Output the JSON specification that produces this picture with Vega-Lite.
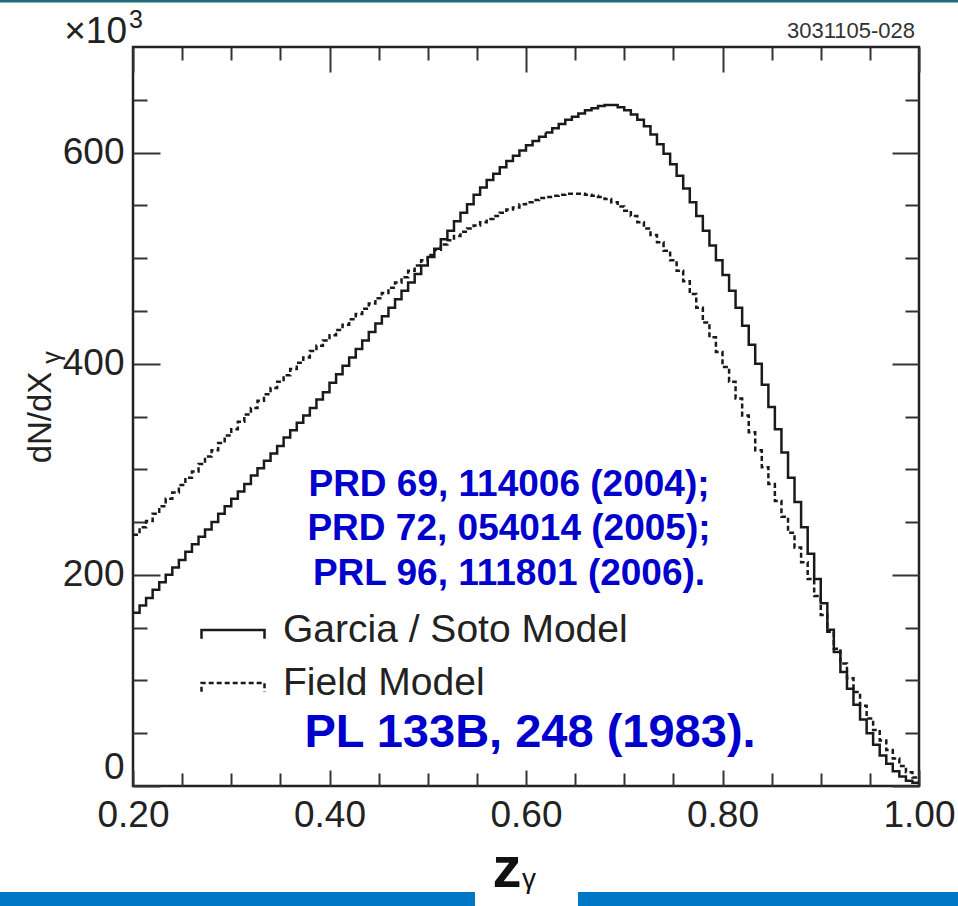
{
 "$schema": "https://vega.github.io/schema/vega-lite/v6.json",
 "width": 786, "height": 739,
 "autosize": "none",
 "padding": {"left": 133, "top": 47, "right": 39, "bottom": 120},
 "background": "white",
 "config": {
  "view": {"stroke": "#222", "strokeWidth": 2.5},
  "font": "Liberation Sans",
  "axis": {"grid": false, "domain": false, "tickColor": "#333", "tickWidth": 2, "labelFont": "Liberation Sans", "labelFontSize": 37, "labelColor": "#222"}
 },
 "datasets": {
  "hist": [
   {"z":0.2,"Garcia / Soto Model":164,"Field Model":238},
   {"z":0.2067,"Garcia / Soto Model":171,"Field Model":245},
   {"z":0.2133,"Garcia / Soto Model":178,"Field Model":251},
   {"z":0.22,"Garcia / Soto Model":186,"Field Model":258},
   {"z":0.2267,"Garcia / Soto Model":193,"Field Model":265},
   {"z":0.2333,"Garcia / Soto Model":200,"Field Model":272},
   {"z":0.24,"Garcia / Soto Model":207,"Field Model":278},
   {"z":0.2467,"Garcia / Soto Model":214,"Field Model":285},
   {"z":0.2533,"Garcia / Soto Model":222,"Field Model":292},
   {"z":0.26,"Garcia / Soto Model":229,"Field Model":298},
   {"z":0.2667,"Garcia / Soto Model":236,"Field Model":305},
   {"z":0.2733,"Garcia / Soto Model":243,"Field Model":312},
   {"z":0.28,"Garcia / Soto Model":250,"Field Model":318},
   {"z":0.2867,"Garcia / Soto Model":258,"Field Model":325},
   {"z":0.2933,"Garcia / Soto Model":265,"Field Model":332},
   {"z":0.3,"Garcia / Soto Model":272,"Field Model":338},
   {"z":0.3067,"Garcia / Soto Model":279,"Field Model":345},
   {"z":0.3133,"Garcia / Soto Model":286,"Field Model":352},
   {"z":0.32,"Garcia / Soto Model":294,"Field Model":358},
   {"z":0.3267,"Garcia / Soto Model":301,"Field Model":365},
   {"z":0.3333,"Garcia / Soto Model":308,"Field Model":371},
   {"z":0.34,"Garcia / Soto Model":315,"Field Model":377},
   {"z":0.3467,"Garcia / Soto Model":322,"Field Model":383},
   {"z":0.3533,"Garcia / Soto Model":330,"Field Model":389},
   {"z":0.36,"Garcia / Soto Model":337,"Field Model":395},
   {"z":0.3667,"Garcia / Soto Model":344,"Field Model":401},
   {"z":0.3733,"Garcia / Soto Model":351,"Field Model":406},
   {"z":0.38,"Garcia / Soto Model":358,"Field Model":412},
   {"z":0.3867,"Garcia / Soto Model":366,"Field Model":417},
   {"z":0.3933,"Garcia / Soto Model":373,"Field Model":422},
   {"z":0.4,"Garcia / Soto Model":382,"Field Model":427},
   {"z":0.4067,"Garcia / Soto Model":390,"Field Model":432},
   {"z":0.4133,"Garcia / Soto Model":398,"Field Model":437},
   {"z":0.42,"Garcia / Soto Model":406,"Field Model":442},
   {"z":0.4267,"Garcia / Soto Model":414,"Field Model":447},
   {"z":0.4333,"Garcia / Soto Model":422,"Field Model":452},
   {"z":0.44,"Garcia / Soto Model":430,"Field Model":457},
   {"z":0.4467,"Garcia / Soto Model":438,"Field Model":462},
   {"z":0.4533,"Garcia / Soto Model":445,"Field Model":467},
   {"z":0.46,"Garcia / Soto Model":453,"Field Model":472},
   {"z":0.4667,"Garcia / Soto Model":461,"Field Model":477},
   {"z":0.4733,"Garcia / Soto Model":469,"Field Model":482},
   {"z":0.48,"Garcia / Soto Model":477,"Field Model":488},
   {"z":0.4867,"Garcia / Soto Model":485,"Field Model":493},
   {"z":0.4933,"Garcia / Soto Model":493,"Field Model":498},
   {"z":0.5,"Garcia / Soto Model":501,"Field Model":503},
   {"z":0.5067,"Garcia / Soto Model":509,"Field Model":508},
   {"z":0.5133,"Garcia / Soto Model":518,"Field Model":513},
   {"z":0.52,"Garcia / Soto Model":526,"Field Model":517},
   {"z":0.5267,"Garcia / Soto Model":535,"Field Model":521},
   {"z":0.5333,"Garcia / Soto Model":543,"Field Model":525},
   {"z":0.54,"Garcia / Soto Model":551,"Field Model":528},
   {"z":0.5467,"Garcia / Soto Model":560,"Field Model":531},
   {"z":0.5533,"Garcia / Soto Model":567,"Field Model":534},
   {"z":0.56,"Garcia / Soto Model":574,"Field Model":537},
   {"z":0.5667,"Garcia / Soto Model":580,"Field Model":540},
   {"z":0.5733,"Garcia / Soto Model":586,"Field Model":543},
   {"z":0.58,"Garcia / Soto Model":592,"Field Model":546},
   {"z":0.5867,"Garcia / Soto Model":597,"Field Model":548},
   {"z":0.5933,"Garcia / Soto Model":602,"Field Model":551},
   {"z":0.6,"Garcia / Soto Model":607,"Field Model":553},
   {"z":0.6067,"Garcia / Soto Model":611,"Field Model":555},
   {"z":0.6133,"Garcia / Soto Model":615,"Field Model":557},
   {"z":0.62,"Garcia / Soto Model":619,"Field Model":558},
   {"z":0.6267,"Garcia / Soto Model":623,"Field Model":559},
   {"z":0.6333,"Garcia / Soto Model":627,"Field Model":560},
   {"z":0.64,"Garcia / Soto Model":631,"Field Model":561},
   {"z":0.6467,"Garcia / Soto Model":634,"Field Model":561},
   {"z":0.6533,"Garcia / Soto Model":637,"Field Model":561},
   {"z":0.66,"Garcia / Soto Model":640,"Field Model":560},
   {"z":0.6667,"Garcia / Soto Model":642,"Field Model":559},
   {"z":0.6733,"Garcia / Soto Model":644,"Field Model":558},
   {"z":0.68,"Garcia / Soto Model":645,"Field Model":556},
   {"z":0.6867,"Garcia / Soto Model":645,"Field Model":553},
   {"z":0.6933,"Garcia / Soto Model":643,"Field Model":549},
   {"z":0.7,"Garcia / Soto Model":640,"Field Model":545},
   {"z":0.7067,"Garcia / Soto Model":636,"Field Model":540},
   {"z":0.7133,"Garcia / Soto Model":631,"Field Model":534},
   {"z":0.72,"Garcia / Soto Model":625,"Field Model":528},
   {"z":0.7267,"Garcia / Soto Model":617,"Field Model":522},
   {"z":0.7333,"Garcia / Soto Model":608,"Field Model":515},
   {"z":0.74,"Garcia / Soto Model":599,"Field Model":507},
   {"z":0.7467,"Garcia / Soto Model":589,"Field Model":498},
   {"z":0.7533,"Garcia / Soto Model":578,"Field Model":488},
   {"z":0.76,"Garcia / Soto Model":566,"Field Model":478},
   {"z":0.7667,"Garcia / Soto Model":553,"Field Model":466},
   {"z":0.7733,"Garcia / Soto Model":540,"Field Model":453},
   {"z":0.78,"Garcia / Soto Model":526,"Field Model":439},
   {"z":0.7867,"Garcia / Soto Model":512,"Field Model":425},
   {"z":0.7933,"Garcia / Soto Model":498,"Field Model":411},
   {"z":0.8,"Garcia / Soto Model":484,"Field Model":397},
   {"z":0.8067,"Garcia / Soto Model":469,"Field Model":383},
   {"z":0.8133,"Garcia / Soto Model":453,"Field Model":367},
   {"z":0.82,"Garcia / Soto Model":436,"Field Model":351},
   {"z":0.8267,"Garcia / Soto Model":418,"Field Model":335},
   {"z":0.8333,"Garcia / Soto Model":400,"Field Model":318},
   {"z":0.84,"Garcia / Soto Model":380,"Field Model":302},
   {"z":0.8467,"Garcia / Soto Model":359,"Field Model":286},
   {"z":0.8533,"Garcia / Soto Model":338,"Field Model":270},
   {"z":0.86,"Garcia / Soto Model":316,"Field Model":255},
   {"z":0.8667,"Garcia / Soto Model":292,"Field Model":240},
   {"z":0.8733,"Garcia / Soto Model":269,"Field Model":226},
   {"z":0.88,"Garcia / Soto Model":245,"Field Model":212},
   {"z":0.8867,"Garcia / Soto Model":220,"Field Model":196},
   {"z":0.8933,"Garcia / Soto Model":196,"Field Model":180},
   {"z":0.9,"Garcia / Soto Model":173,"Field Model":162},
   {"z":0.9067,"Garcia / Soto Model":148,"Field Model":146},
   {"z":0.9133,"Garcia / Soto Model":127,"Field Model":130},
   {"z":0.92,"Garcia / Soto Model":108,"Field Model":116},
   {"z":0.9267,"Garcia / Soto Model":92,"Field Model":102},
   {"z":0.9333,"Garcia / Soto Model":77,"Field Model":89},
   {"z":0.94,"Garcia / Soto Model":63,"Field Model":76},
   {"z":0.9467,"Garcia / Soto Model":50,"Field Model":64},
   {"z":0.9533,"Garcia / Soto Model":39,"Field Model":53},
   {"z":0.96,"Garcia / Soto Model":29,"Field Model":43},
   {"z":0.9667,"Garcia / Soto Model":21,"Field Model":34},
   {"z":0.9733,"Garcia / Soto Model":14,"Field Model":26},
   {"z":0.98,"Garcia / Soto Model":9,"Field Model":19},
   {"z":0.9867,"Garcia / Soto Model":5,"Field Model":13},
   {"z":0.9933,"Garcia / Soto Model":3,"Field Model":8},
   {"z":1.0,"Garcia / Soto Model":3,"Field Model":8}
  ],
  "one": [{}]
 },
 "resolve": {"axis": {"x": "independent", "y": "independent"}},
 "layer": [
  {
   "data": {"name": "hist"},
   "transform": [{"fold": ["Garcia / Soto Model", "Field Model"], "as": ["model", "v"]}],
   "mark": {"type": "line", "interpolate": "step-after", "color": "#1a1a1a", "strokeWidth": 2.5},
   "encoding": {
    "x": {"field": "z", "type": "quantitative", "scale": {"domain": [0.2, 1.0], "nice": false, "zero": false},
          "axis": {"orient": "bottom", "values": [0.2, 0.4, 0.6, 0.8, 1.0], "format": ".2f", "ticks": false, "labelPadding": 11, "labelFlush": false, "title": null}},
    "y": {"field": "v", "type": "quantitative", "scale": {"domain": [0, 700], "nice": false},
          "axis": {"orient": "left", "values": [0, 200, 400, 600], "ticks": false, "labelPadding": 9, "labelFlush": true,
                   "title": "dN/dX", "titleFont": "Liberation Sans", "titleFontSize": 33, "titleFontWeight": "normal", "titleColor": "#222",
                   "titleX": -93, "titleY": 370, "titleAngle": 270, "titleAlign": "center", "titleBaseline": "middle"}},
    "strokeDash": {"field": "model", "type": "nominal",
                   "scale": {"domain": ["Garcia / Soto Model", "Field Model"], "range": [[1, 0], [5, 3]]},
                   "legend": {"orient": "none", "legendX": 67, "legendY": 550, "title": null,
                              "symbolType": "M-1,0.28L-1,0L1,0L1,0.28", "symbolSize": 3969, "symbolStrokeWidth": 2.5,
                              "symbolStrokeColor": "#1a1a1a", "symbolFillColor": "transparent",
                              "labelFont": "Liberation Sans", "labelFontSize": 39, "labelColor": "#222",
                              "labelOffset": 17, "labelLimit": 1000, "rowPadding": -19, "padding": 0}}
   }
  },
  {
   "data": {"name": "one"},
   "mark": {"type": "rect", "color": "#0076c6"},
   "encoding": {
    "x": {"datum": 0.0646, "type": "quantitative", "scale": {"domain": [0.2, 1.0], "nice": false, "zero": false},
          "axis": {"orient": "bottom", "values": [0.2, 0.4, 0.6, 0.8, 1.0], "labels": false, "tickSize": -16, "title": null}},
    "x2": {"datum": 0.5481},
    "y": {"datum": -100.4, "type": "quantitative", "scale": {"domain": [0, 700], "nice": false},
          "axis": {"orient": "left", "values": [0, 200, 400, 600], "labels": false, "tickSize": -27, "title": null}},
    "y2": {"datum": -113.7}
   }
  },
  {
   "data": {"name": "one"},
   "mark": {"type": "rect", "color": "#0076c6"},
   "encoding": {
    "x": {"datum": 0.6529, "type": "quantitative", "scale": {"domain": [0.2, 1.0], "nice": false, "zero": false},
          "axis": {"orient": "bottom", "values": [0.25, 0.3, 0.35, 0.45, 0.5, 0.55, 0.65, 0.7, 0.75, 0.85, 0.9, 0.95], "labels": false, "tickSize": -13, "title": null}},
    "x2": {"datum": 1.0397},
    "y": {"datum": -100.4, "type": "quantitative", "scale": {"domain": [0, 700], "nice": false},
          "axis": {"orient": "left", "values": [50, 100, 150, 250, 300, 350, 450, 500, 550, 650], "labels": false, "tickSize": -14, "title": null}},
    "y2": {"datum": -113.7}
   }
  },
  {
   "data": {"name": "one"},
   "mark": {"type": "rect", "color": "#226c78"},
   "encoding": {
    "x": {"datum": 0.0646, "type": "quantitative", "scale": {"domain": [0.2, 1.0], "nice": false, "zero": false},
          "axis": {"orient": "top", "values": [0.2, 0.4, 0.6, 0.8, 1.0], "labels": false, "tickSize": -25, "title": null}},
    "x2": {"datum": 1.0397},
    "y": {"datum": 744.5, "type": "quantitative", "scale": {"domain": [0, 700], "nice": false},
          "axis": {"orient": "right", "values": [0, 200, 400, 600], "labels": false, "tickSize": -27, "title": null}},
    "y2": {"datum": 742.2}
   }
  },
  {
   "data": {"name": "one"},
   "mark": {"type": "text", "text": "×10", "align": "right", "baseline": "alphabetic", "font": "Liberation Sans", "fontSize": 37, "color": "#222"},
   "encoding": {
    "x": {"datum": 0.1939, "type": "quantitative", "scale": {"domain": [0.2, 1.0], "nice": false, "zero": false},
          "axis": {"orient": "top", "values": [0.25, 0.3, 0.35, 0.45, 0.5, 0.55, 0.65, 0.7, 0.75, 0.85, 0.9, 0.95], "labels": false, "tickSize": -13, "title": null}},
    "y": {"datum": 704, "type": "quantitative", "scale": {"domain": [0, 700], "nice": false},
          "axis": {"orient": "right", "values": [50, 100, 150, 250, 300, 350, 450, 500, 550, 650], "labels": false, "tickSize": -14, "title": null}}
   }
  },
  {
   "data": {"name": "one"},
   "mark": {"type": "text", "text": "3", "align": "left", "baseline": "alphabetic", "font": "Liberation Sans", "fontSize": 25, "color": "#222"},
   "encoding": {
    "x": {"datum": 0.1959, "type": "quantitative", "scale": {"domain": [0.2, 1.0], "nice": false, "zero": false}, "axis": null},
    "y": {"datum": 718, "type": "quantitative", "scale": {"domain": [0, 700], "nice": false}, "axis": null}
   }
  },
  {
   "data": {"name": "one"},
   "mark": {"type": "text", "text": "γ", "angle": 270, "align": "center", "baseline": "middle", "font": "Liberation Sans", "fontSize": 25, "color": "#222"},
   "encoding": {
    "x": {"datum": 0.1175, "type": "quantitative", "scale": {"domain": [0.2, 1.0], "nice": false, "zero": false}, "axis": null},
    "y": {"datum": 406, "type": "quantitative", "scale": {"domain": [0, 700], "nice": false}, "axis": null}
   }
  },
  {
   "data": {"name": "one"},
   "mark": {"type": "text", "text": "3031105-028", "align": "right", "baseline": "alphabetic", "font": "Liberation Sans", "fontSize": 22, "color": "#333"},
   "encoding": {
    "x": {"datum": 0.9959, "type": "quantitative", "scale": {"domain": [0.2, 1.0], "nice": false, "zero": false}, "axis": null},
    "y": {"datum": 708.5, "type": "quantitative", "scale": {"domain": [0, 700], "nice": false}, "axis": null}
   }
  },
  {
   "data": {"name": "one"},
   "mark": {"type": "text", "text": "PRD 69, 114006 (2004);", "align": "center", "baseline": "middle", "font": "Liberation Sans", "fontWeight": "bold", "fontSize": 37, "color": "#0000cc"},
   "encoding": {
    "x": {"datum": 0.5827, "type": "quantitative", "scale": {"domain": [0.2, 1.0], "nice": false, "zero": false}, "axis": null},
    "y": {"datum": 285, "type": "quantitative", "scale": {"domain": [0, 700], "nice": false}, "axis": null}
   }
  },
  {
   "data": {"name": "one"},
   "mark": {"type": "text", "text": "PRD 72, 054014 (2005);", "align": "center", "baseline": "middle", "font": "Liberation Sans", "fontWeight": "bold", "fontSize": 37, "color": "#0000cc"},
   "encoding": {
    "x": {"datum": 0.5827, "type": "quantitative", "scale": {"domain": [0.2, 1.0], "nice": false, "zero": false}, "axis": null},
    "y": {"datum": 243.4, "type": "quantitative", "scale": {"domain": [0, 700], "nice": false}, "axis": null}
   }
  },
  {
   "data": {"name": "one"},
   "mark": {"type": "text", "text": "PRL 96, 111801 (2006).", "align": "center", "baseline": "middle", "font": "Liberation Sans", "fontWeight": "bold", "fontSize": 37, "color": "#0000cc"},
   "encoding": {
    "x": {"datum": 0.5827, "type": "quantitative", "scale": {"domain": [0.2, 1.0], "nice": false, "zero": false}, "axis": null},
    "y": {"datum": 200.8, "type": "quantitative", "scale": {"domain": [0, 700], "nice": false}, "axis": null}
   }
  },
  {
   "data": {"name": "one"},
   "mark": {"type": "text", "text": "PL 133B, 248 (1983).", "align": "center", "baseline": "middle", "font": "Liberation Sans", "fontWeight": "bold", "fontSize": 47, "color": "#0000cc"},
   "encoding": {
    "x": {"datum": 0.6041, "type": "quantitative", "scale": {"domain": [0.2, 1.0], "nice": false, "zero": false}, "axis": null},
    "y": {"datum": 50.2, "type": "quantitative", "scale": {"domain": [0, 700], "nice": false}, "axis": null}
   }
  },
  {
   "data": {"name": "one"},
   "mark": {"type": "text", "text": "z", "align": "center", "baseline": "alphabetic", "font": "Liberation Sans", "fontWeight": "bold", "fontSize": 58, "color": "#111"},
   "encoding": {
    "x": {"datum": 0.5807, "type": "quantitative", "scale": {"domain": [0.2, 1.0], "nice": false, "zero": false}, "axis": null},
    "y": {"datum": -95.7, "type": "quantitative", "scale": {"domain": [0, 700], "nice": false}, "axis": null}
   }
  },
  {
   "data": {"name": "one"},
   "mark": {"type": "text", "text": "γ", "align": "left", "baseline": "alphabetic", "font": "Liberation Sans", "fontSize": 28, "color": "#111"},
   "encoding": {
    "x": {"datum": 0.5959, "type": "quantitative", "scale": {"domain": [0.2, 1.0], "nice": false, "zero": false}, "axis": null},
    "y": {"datum": -96.6, "type": "quantitative", "scale": {"domain": [0, 700], "nice": false}, "axis": null}
   }
  }
 ]
}
